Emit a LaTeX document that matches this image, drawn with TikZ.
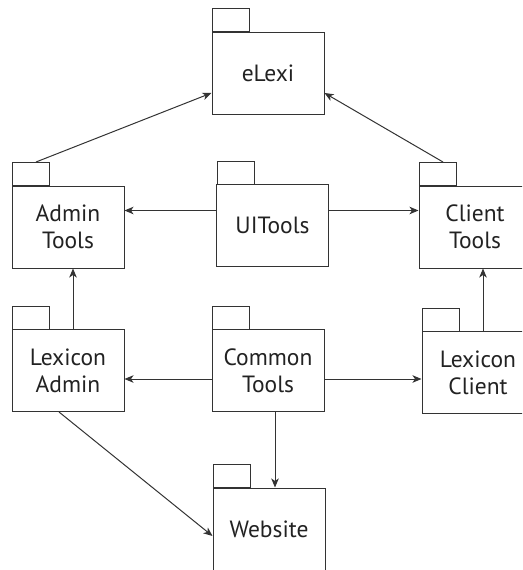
\documentclass[tikz,border=0pt]{standalone}
\usepackage{fontspec}
\setmainfont{PT Sans}
\usetikzlibrary{arrows.meta,calc}
\definecolor{ln}{HTML}{333333}
\definecolor{tx}{HTML}{222222}
\tikzset{
  pkg/.style={draw=ln, line width=1pt, rectangle, minimum width=112pt, minimum height=82pt,
    inner sep=0pt, align=center, text=tx, font=\fontsize{23.5}{27}\selectfont},
  pkgtab/.style={draw=ln, line width=1pt, rectangle, minimum width=37pt, minimum height=23pt,
    inner sep=0pt, anchor=south west},
  arr/.style={draw=ln, line width=1pt, -{Stealth[length=9pt,width=7.5pt,inset=2.5pt]}}
}
\begin{document}
\begin{tikzpicture}[x=1pt,y=-1pt]
\useasboundingbox (0,0) rectangle (522,570);
\clip (0,0) rectangle (522,570);
\node[pkg] (eLexi) at (268,73) {eLexi};
\node[pkg] (AdminTools) at (68,227) {Admin\\Tools};
\node[pkg] (UITools) at (272.5,225.5) {UITools};
\node[pkg] (ClientTools) at (475,227) {Client\\Tools};
\node[pkg] (LexiconAdmin) at (68,370.5) {Lexicon\\Admin};
\node[pkg] (CommonTools) at (268,370.5) {Common\\Tools};
\node[pkg] (LexiconClient) at (478,372.5) {Lexicon\\Client};
\node[pkg] (Website) at (269,529) {Website};
\foreach \n in {eLexi,AdminTools,UITools,ClientTools,LexiconAdmin,CommonTools,LexiconClient,Website}
  \node[pkgtab] (tab\n) at ([xshift=0.5pt,yshift=-0.5pt]\n.north west) {};
% to eLexi
\draw[arr] ([xshift=5pt]tabAdminTools.north) -- ([yshift=-20pt]eLexi.west);
\draw[arr] ([xshift=5pt]tabClientTools.north) -- ([yshift=-20pt]eLexi.east);
% UITools
\coordinate (u1) at ([yshift=15pt]UITools.west);
\coordinate (u2) at ([yshift=15pt]UITools.east);
\draw[arr] (u1) -- (u1 -| AdminTools.east);
\draw[arr] (u2) -- (u2 -| ClientTools.west);
% CommonTools
\coordinate (c1) at ([yshift=-8.5pt]CommonTools.west);
\coordinate (c2) at ([yshift=-8.5pt]CommonTools.east);
\draw[arr] (c1) -- (c1 -| LexiconAdmin.east);
\draw[arr] (c2) -- (c2 -| LexiconClient.west);
\coordinate (c3) at ([xshift=7pt]CommonTools.south);
\draw[arr] (c3) -- (c3 |- Website.north);
% upward
\coordinate (la) at ([xshift=5pt]LexiconAdmin.north);
\draw[arr] (la) -- (la |- AdminTools.south);
\coordinate (lc) at ([xshift=5pt]LexiconClient.north);
\draw[arr] (lc) -- (lc |- ClientTools.south);
% to Website
\draw[arr] ([xshift=-9pt]LexiconAdmin.south) -- ([yshift=-7pt]Website.west);
\end{tikzpicture}
\end{document}
